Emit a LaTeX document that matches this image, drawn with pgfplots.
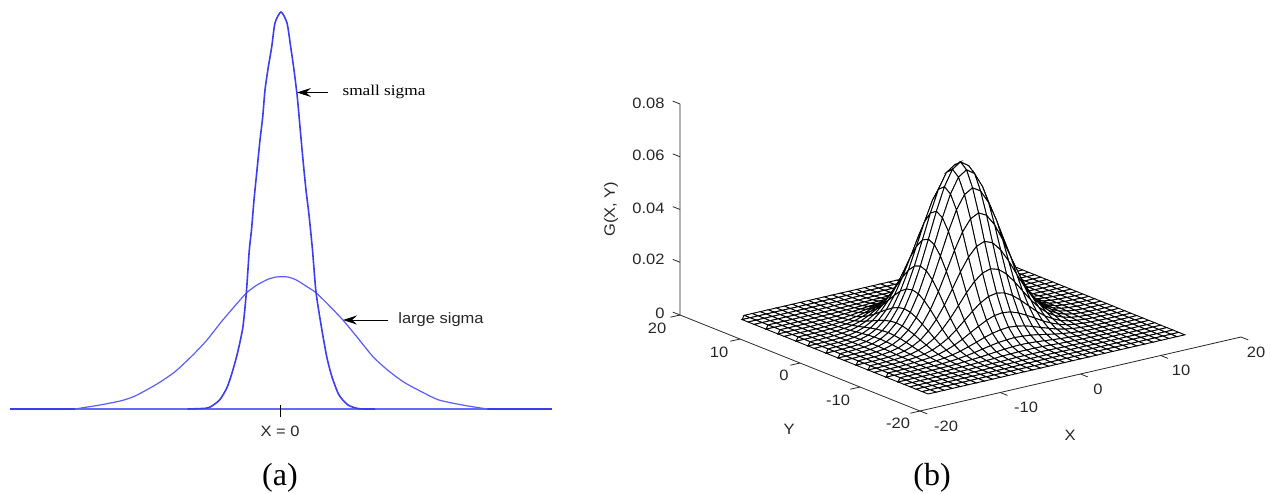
\documentclass[border=0pt]{standalone}
\usepackage{graphicx}
\usepackage{fontspec}
\setmainfont{Liberation Sans}
\newfontfamily\serifcap{Liberation Serif}
\usepackage{pgfplots}
\usetikzlibrary{arrows.meta}
\pgfplotsset{compat=1.18}
\definecolor{cblue}{HTML}{3C3CF0}
\definecolor{clight}{HTML}{6A6AF8}
\newcommand\T[1]{\textcolor{black!85}{\fontsize{15}{15}\selectfont\scalebox{1.1}[1]{#1}}}
\begin{document}
\begin{tikzpicture}[x=1pt,y=1pt]
\path[use as bounding box] (0pt,0pt) rectangle (1271pt,493pt);
% panel b: surface
\begin{axis}[
  at={(960.5pt,167pt)},anchor=origin,
  x={(8.025pt,1.85pt)},y={(-6pt,2.4pt)},z={(0pt,2637.5pt)},
  xmin=-20,xmax=20,ymin=-20,ymax=20,zmin=0,zmax=0.08,
  hide axis,clip=false]
\addplot3[surf,shader=faceted,colormap={bw}{color=(white) color=(white)},faceted color=black,line width=0.9pt,mesh/cols=33,mesh/ordering=x varies,point meta=0]
 table[row sep=\\,header=false,
   x expr={mod(\coordindex,33)-16},
   y expr={floor(\coordindex/33)-16},
   z expr={\thisrowno{0}/10000}]{
0\\0\\0\\0\\0\\0\\0\\0\\0\\0\\0\\0\\0\\0\\0\\0\\0\\0\\0\\0\\0\\0\\0\\0\\0\\0\\0\\0\\0\\0\\0\\0\\0\\
0\\0\\0\\0\\0\\0\\0\\0\\0\\0\\0\\0\\0\\0\\0\\0\\0\\0\\0\\0\\0\\0\\0\\0\\0\\0\\0\\0\\0\\0\\0\\0\\0\\
0\\0\\0\\0\\0\\0\\0\\0\\0\\0\\0\\0\\0\\1\\1\\1\\1\\1\\1\\1\\0\\0\\0\\0\\0\\0\\0\\0\\0\\0\\0\\0\\0\\
0\\0\\0\\0\\0\\0\\0\\0\\0\\0\\1\\1\\1\\1\\2\\2\\2\\2\\2\\1\\1\\1\\1\\0\\0\\0\\0\\0\\0\\0\\0\\0\\0\\
0\\0\\0\\0\\0\\0\\0\\0\\0\\1\\1\\2\\2\\3\\4\\4\\4\\4\\4\\3\\2\\2\\1\\1\\0\\0\\0\\0\\0\\0\\0\\0\\0\\
0\\0\\0\\0\\0\\0\\0\\1\\1\\2\\3\\4\\5\\7\\8\\9\\9\\9\\8\\7\\5\\4\\3\\2\\1\\1\\0\\0\\0\\0\\0\\0\\0\\
0\\0\\0\\0\\0\\0\\1\\1\\2\\4\\6\\8\\11\\14\\17\\19\\20\\19\\17\\14\\11\\8\\6\\4\\2\\1\\1\\0\\0\\0\\0\\0\\0\\
0\\0\\0\\0\\0\\1\\1\\2\\4\\7\\11\\16\\22\\28\\33\\36\\38\\36\\33\\28\\22\\16\\11\\7\\4\\2\\1\\1\\0\\0\\0\\0\\0\\
0\\0\\0\\0\\0\\1\\2\\4\\7\\12\\19\\29\\39\\50\\59\\65\\68\\65\\59\\50\\39\\29\\19\\12\\7\\4\\2\\1\\0\\0\\0\\0\\0\\
0\\0\\0\\0\\1\\2\\4\\7\\12\\21\\33\\48\\66\\83\\99\\110\\114\\110\\99\\83\\66\\48\\33\\21\\12\\7\\4\\2\\1\\0\\0\\0\\0\\
0\\0\\0\\1\\1\\3\\6\\11\\19\\33\\51\\75\\103\\131\\156\\173\\179\\173\\156\\131\\103\\75\\51\\33\\19\\11\\6\\3\\1\\1\\0\\0\\0\\
0\\0\\0\\1\\2\\4\\8\\16\\29\\48\\75\\110\\150\\192\\228\\253\\262\\253\\228\\192\\150\\110\\75\\48\\29\\16\\8\\4\\2\\1\\0\\0\\0\\
0\\0\\0\\1\\2\\5\\11\\22\\39\\66\\103\\150\\205\\262\\311\\345\\357\\345\\311\\262\\205\\150\\103\\66\\39\\22\\11\\5\\2\\1\\0\\0\\0\\
0\\0\\1\\1\\3\\7\\14\\28\\50\\83\\131\\192\\262\\334\\397\\440\\456\\440\\397\\334\\262\\192\\131\\83\\50\\28\\14\\7\\3\\1\\1\\0\\0\\
0\\0\\1\\2\\4\\8\\17\\33\\59\\99\\156\\228\\311\\397\\472\\523\\542\\523\\472\\397\\311\\228\\156\\99\\59\\33\\17\\8\\4\\2\\1\\0\\0\\
0\\0\\1\\2\\4\\9\\19\\36\\65\\110\\173\\253\\345\\440\\523\\580\\601\\580\\523\\440\\345\\253\\173\\110\\65\\36\\19\\9\\4\\2\\1\\0\\0\\
0\\0\\1\\2\\4\\9\\20\\38\\68\\114\\179\\262\\357\\456\\542\\601\\622\\601\\542\\456\\357\\262\\179\\114\\68\\38\\20\\9\\4\\2\\1\\0\\0\\
0\\0\\1\\2\\4\\9\\19\\36\\65\\110\\173\\253\\345\\440\\523\\580\\601\\580\\523\\440\\345\\253\\173\\110\\65\\36\\19\\9\\4\\2\\1\\0\\0\\
0\\0\\1\\2\\4\\8\\17\\33\\59\\99\\156\\228\\311\\397\\472\\523\\542\\523\\472\\397\\311\\228\\156\\99\\59\\33\\17\\8\\4\\2\\1\\0\\0\\
0\\0\\1\\1\\3\\7\\14\\28\\50\\83\\131\\192\\262\\334\\397\\440\\456\\440\\397\\334\\262\\192\\131\\83\\50\\28\\14\\7\\3\\1\\1\\0\\0\\
0\\0\\0\\1\\2\\5\\11\\22\\39\\66\\103\\150\\205\\262\\311\\345\\357\\345\\311\\262\\205\\150\\103\\66\\39\\22\\11\\5\\2\\1\\0\\0\\0\\
0\\0\\0\\1\\2\\4\\8\\16\\29\\48\\75\\110\\150\\192\\228\\253\\262\\253\\228\\192\\150\\110\\75\\48\\29\\16\\8\\4\\2\\1\\0\\0\\0\\
0\\0\\0\\1\\1\\3\\6\\11\\19\\33\\51\\75\\103\\131\\156\\173\\179\\173\\156\\131\\103\\75\\51\\33\\19\\11\\6\\3\\1\\1\\0\\0\\0\\
0\\0\\0\\0\\1\\2\\4\\7\\12\\21\\33\\48\\66\\83\\99\\110\\114\\110\\99\\83\\66\\48\\33\\21\\12\\7\\4\\2\\1\\0\\0\\0\\0\\
0\\0\\0\\0\\0\\1\\2\\4\\7\\12\\19\\29\\39\\50\\59\\65\\68\\65\\59\\50\\39\\29\\19\\12\\7\\4\\2\\1\\0\\0\\0\\0\\0\\
0\\0\\0\\0\\0\\1\\1\\2\\4\\7\\11\\16\\22\\28\\33\\36\\38\\36\\33\\28\\22\\16\\11\\7\\4\\2\\1\\1\\0\\0\\0\\0\\0\\
0\\0\\0\\0\\0\\0\\1\\1\\2\\4\\6\\8\\11\\14\\17\\19\\20\\19\\17\\14\\11\\8\\6\\4\\2\\1\\1\\0\\0\\0\\0\\0\\0\\
0\\0\\0\\0\\0\\0\\0\\1\\1\\2\\3\\4\\5\\7\\8\\9\\9\\9\\8\\7\\5\\4\\3\\2\\1\\1\\0\\0\\0\\0\\0\\0\\0\\
0\\0\\0\\0\\0\\0\\0\\0\\0\\1\\1\\2\\2\\3\\4\\4\\4\\4\\4\\3\\2\\2\\1\\1\\0\\0\\0\\0\\0\\0\\0\\0\\0\\
0\\0\\0\\0\\0\\0\\0\\0\\0\\0\\1\\1\\1\\1\\2\\2\\2\\2\\2\\1\\1\\1\\1\\0\\0\\0\\0\\0\\0\\0\\0\\0\\0\\
0\\0\\0\\0\\0\\0\\0\\0\\0\\0\\0\\0\\0\\1\\1\\1\\1\\1\\1\\1\\0\\0\\0\\0\\0\\0\\0\\0\\0\\0\\0\\0\\0\\
0\\0\\0\\0\\0\\0\\0\\0\\0\\0\\0\\0\\0\\0\\0\\0\\0\\0\\0\\0\\0\\0\\0\\0\\0\\0\\0\\0\\0\\0\\0\\0\\0\\
0\\0\\0\\0\\0\\0\\0\\0\\0\\0\\0\\0\\0\\0\\0\\0\\0\\0\\0\\0\\0\\0\\0\\0\\0\\0\\0\\0\\0\\0\\0\\0\\0\\
};
% axis lines and ticks
\draw[black!85,line width=0.8pt] (axis cs:-20,-20,0)--(axis cs:20,-20,0);
\draw[black!85,line width=0.8pt] (axis cs:-20,-20,0)--(axis cs:-20,20,0)--(axis cs:-20,20,0.08);
\pgfplotsinvokeforeach{-20,-10,0,10,20}{
  \draw[black!85,line width=0.8pt] (axis cs:#1,-20,0)--(axis cs:#1,-21.2,0);
  \draw[black!85,line width=0.8pt] (axis cs:-20,#1,0)--(axis cs:-21.2,#1,0);
}
\pgfplotsinvokeforeach{0,0.02,0.04,0.06,0.08}{
  \draw[black!85,line width=0.8pt] (axis cs:-20,20,#1)--(axis cs:-20,21.2,#1);
}
\end{axis}
% pixel-space axis: panel a and the texts
\begin{axis}[
  at={(0pt,0pt)},anchor=south west,scale only axis,width=1271pt,height=493pt,
  xmin=0,xmax=1271,ymin=0,ymax=493,y dir=reverse,hide axis,clip=false]
\addplot[clight,line width=1.6pt] coordinates {(10,409)(552,409)};
\addplot[cblue,line width=1.8pt] coordinates {(10,409)(75,409)};
\addplot[cblue,line width=1.8pt] coordinates {(487,409)(552,409)};
% large sigma
\addplot[clight!70!cblue,line width=1.2pt,smooth,tension=0.4] coordinates {
(75,409)(85.7,407.3)(100,405)(121.4,400.7)(135.7,395.7)(157,384)(175,371.7)(192.9,355)(207,340)(221.4,321.7)(235.7,305)(246.4,293)(257,285)(267.9,279.3)(276,277)(282,276.7)(288,277)(296.4,280)(307,286.7)(316,292.7)(328.6,305)(342.9,320)(357,337)(373,356.7)(387.5,370)(403.6,382)(421.4,391.7)(439,400)(464,405.3)(487.5,409)};
% small sigma
\addplot[cblue,line width=1.6pt,smooth,tension=0.4] coordinates {
(187.5,409)(205.4,408.3)(210.7,406.7)(219.6,400)(226.8,388)(232,373)(237.5,353)(242.9,327)(246.4,292)(249.3,250)(251.5,230)(254,200)(257,170)(260,140)(262.7,117)(265,90)(268.3,67)(271.7,47)(275,23)(281,12)(287,23)(290.7,47)(294,70)(297.3,97)(300,127)(303,160)(306,190)(309,215)(312.5,250)(316,292)(321.4,327)(326.8,357)(332,377)(339,395)(348,405)(359,408.7)(375,409)};
\addplot[black,line width=0.8pt] coordinates {(280,405)(280,417)};
% arrows
\draw[black,line width=0.8pt,-{Stealth[length=14pt,width=9pt,inset=5pt]}] (axis cs:328,92.5)--(axis cs:297,92.5);
\draw[black,line width=0.8pt,-{Stealth[length=14pt,width=9pt,inset=5pt]}] (axis cs:388,320)--(axis cs:343,320);
\node[anchor=center] at (axis cs:384,92) {\serifcap\fontsize{15}{15}\selectfont\scalebox{1.15}[1]{small sigma}};
\node at (axis cs:441,320) {\T{large sigma}};
\node at (axis cs:280,431) {\T{X = 0}};
\node at (axis cs:280,478) {\serifcap\fontsize{32}{32}\selectfont (a)};
\node at (axis cs:932,478) {\serifcap\fontsize{32}{32}\selectfont (b)};
% z tick labels
\node[anchor=east] at (axis cs:668,103) {\T{0.08}};
\node[anchor=east] at (axis cs:668,155) {\T{0.06}};
\node[anchor=east] at (axis cs:668,208) {\T{0.04}};
\node[anchor=east] at (axis cs:668,259) {\T{0.02}};
\node[anchor=east] at (axis cs:668,313) {\T{0}};
\node[rotate=90] at (axis cs:611,209) {\T{G(X, Y)}};
% y tick labels
\node at (axis cs:657,328) {\T{20}};
\node at (axis cs:719,352) {\T{10}};
\node at (axis cs:784,375) {\T{0}};
\node at (axis cs:838,400) {\T{-10}};
\node at (axis cs:898,423) {\T{-20}};
\node at (axis cs:789,429) {\T{Y}};
% x tick labels
\node at (axis cs:946,426) {\T{-20}};
\node at (axis cs:1026,407) {\T{-10}};
\node at (axis cs:1098,389) {\T{0}};
\node at (axis cs:1181,370) {\T{10}};
\node at (axis cs:1256,352) {\T{20}};
\node at (axis cs:1070,435) {\T{X}};
\end{axis}
\end{tikzpicture}
\end{document}
